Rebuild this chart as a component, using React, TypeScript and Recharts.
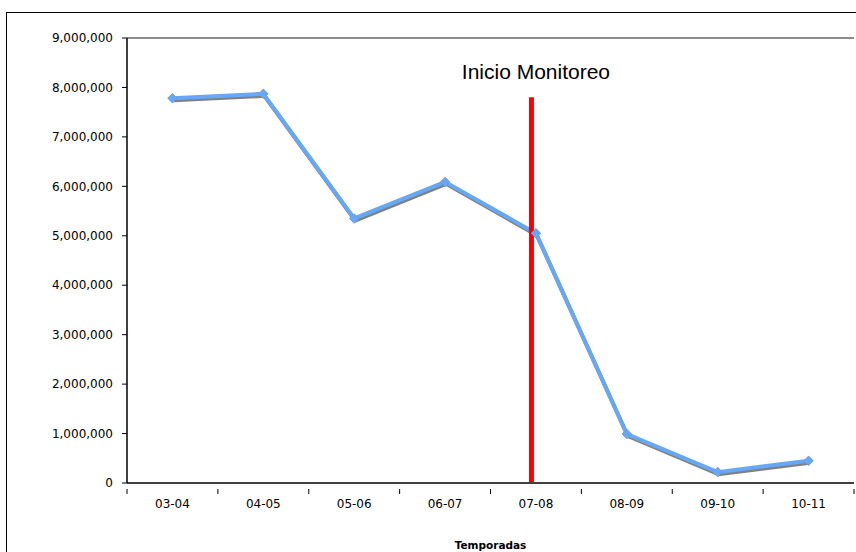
import React from 'react'
import {
  LineChart,
  Line,
  XAxis,
  YAxis,
  ReferenceLine,
  ReferenceDot,
  Label
} from 'recharts'

// temporadas y valores
const seasons = ['03-04', '04-05', '05-06', '06-07', '07-08', '08-09', '09-10', '10-11']
const values = [7780000, 7870000, 5350000, 6090000, 5050000, 990000, 220000, 450000]
const yTicks = [0, 1000000, 2000000, 3000000, 4000000, 5000000, 6000000, 7000000, 8000000, 9000000]
const markerSeason = '07-08'
const markerTop = 7800000
const markerLabel = 'Inicio Monitoreo'
const labelLevel = 8320000

const data = seasons.map((s, i) => ({ season: s, value: values[i] }))

const fmt = (v: number) => v.toLocaleString('en-US')

const plotWidth = 727
const halfBand = plotWidth / 16
const tickGap = 10
// la linea roja queda un poco a la izquierda del centro de 07-08
const markerShift = -4.5

const Diamond = (props: any) => {
  const { cx, cy, fill } = props
  if (cx == null || cy == null) return null
  const r = 5
  return (
    <path
      d={`M${cx},${cy - r}L${cx + r},${cy}L${cx},${cy + r}L${cx - r},${cy}Z`}
      fill={fill}
    />
  )
}

const font = 'DejaVu Sans, Verdana, sans-serif'

// etiqueta de categoria con marcas en los limites (estilo Excel)
const CatTick = (props: any) => {
  const { x, y, payload, index } = props
  const top = y - tickGap
  return (
    <g>
      <line x1={x - halfBand} x2={x - halfBand} y1={top} y2={top + 5} stroke="#000" />
      {index === seasons.length - 1 && (
        <line x1={x + halfBand} x2={x + halfBand} y1={top} y2={top + 5} stroke="#000" />
      )}
      <text x={x} y={y} dy="0.71em" textAnchor="middle" fontFamily={font} fontSize={12} fill="#000">
        {payload.value}
      </text>
    </g>
  )
}

const MarkerShape = (props: any) => {
  const { x1, y1, x2, y2 } = props
  return (
    <line
      x1={x1 + markerShift}
      x2={x2 + markerShift}
      y1={y1}
      y2={y2}
      stroke="#ff0000"
      strokeWidth={5}
    />
  )
}

export default function App() {
  return (
    <div style={{ position: 'relative', width: 856, height: 552, overflow: 'hidden', background: '#fff' }}>
      <style>{`body{margin:0} .shadow-line{transform:translate(1px,2px)}`}</style>
      <div
        style={{
          position: 'absolute',
          left: 6,
          top: 12,
          width: 900,
          height: 600,
          border: '1px solid #000'
        }}
      />
      <div style={{ position: 'absolute', left: 0, top: 0 }}>
        <LineChart width={856} height={552} data={data} margin={{ top: 38, right: 2, bottom: 0, left: 0 }}>
          <XAxis
            dataKey="season"
            height={69}
            padding={{ left: halfBand, right: halfBand }}
            tick={<CatTick />}
            tickLine={false}
            axisLine={{ stroke: '#404040', strokeWidth: 2 }}
            tickMargin={tickGap}
          >
            <Label
              value="Temporadas"
              position="insideBottom"
              offset={3}
              style={{ fontFamily: font, fontSize: 10.5, fontWeight: 'bold', fill: '#000' }}
            />
          </XAxis>
          <YAxis
            width={127}
            domain={[0, 9000000]}
            ticks={yTicks}
            tickFormatter={fmt}
            tick={{ fontFamily: font, fontSize: 12, fill: '#000' }}
            tickSize={5}
            tickMargin={9}
            tickLine={{ stroke: '#000' }}
            axisLine={{ stroke: '#000', strokeWidth: 1.5 }}
          />
          <YAxis
            yAxisId="r"
            orientation="right"
            width={0}
            domain={[0, 9000000]}
            tick={false}
            tickLine={false}
            axisLine={{ stroke: '#8c8c8c', strokeWidth: 2 }}
          />
          <ReferenceLine y={9000000} stroke="#8c8c8c" strokeWidth={2} />
          <Line
            className="shadow-line"
            dataKey="value"
            stroke="#808080"
            strokeWidth={4}
            dot={<Diamond fill="#808080" />}
            activeDot={false}
            isAnimationActive={false}
          />
          <Line
            dataKey="value"
            stroke="#66a8f5"
            strokeWidth={4}
            dot={<Diamond fill="#66a8f5" />}
            activeDot={false}
            isAnimationActive={false}
          />
          <ReferenceLine
            segment={[
              { x: markerSeason, y: 0 },
              { x: markerSeason, y: markerTop }
            ]}
            stroke="#ff0000"
            strokeWidth={5}
            shape={<MarkerShape />}
          />
          <ReferenceDot x={markerSeason} y={labelLevel} r={0} stroke="none" fill="none">
            <Label
              value={markerLabel}
              position="center"
              style={{ fontFamily: 'Liberation Sans, Arial, sans-serif', fontSize: 21, fill: '#000' }}
            />
          </ReferenceDot>
        </LineChart>
      </div>
    </div>
  )
}
